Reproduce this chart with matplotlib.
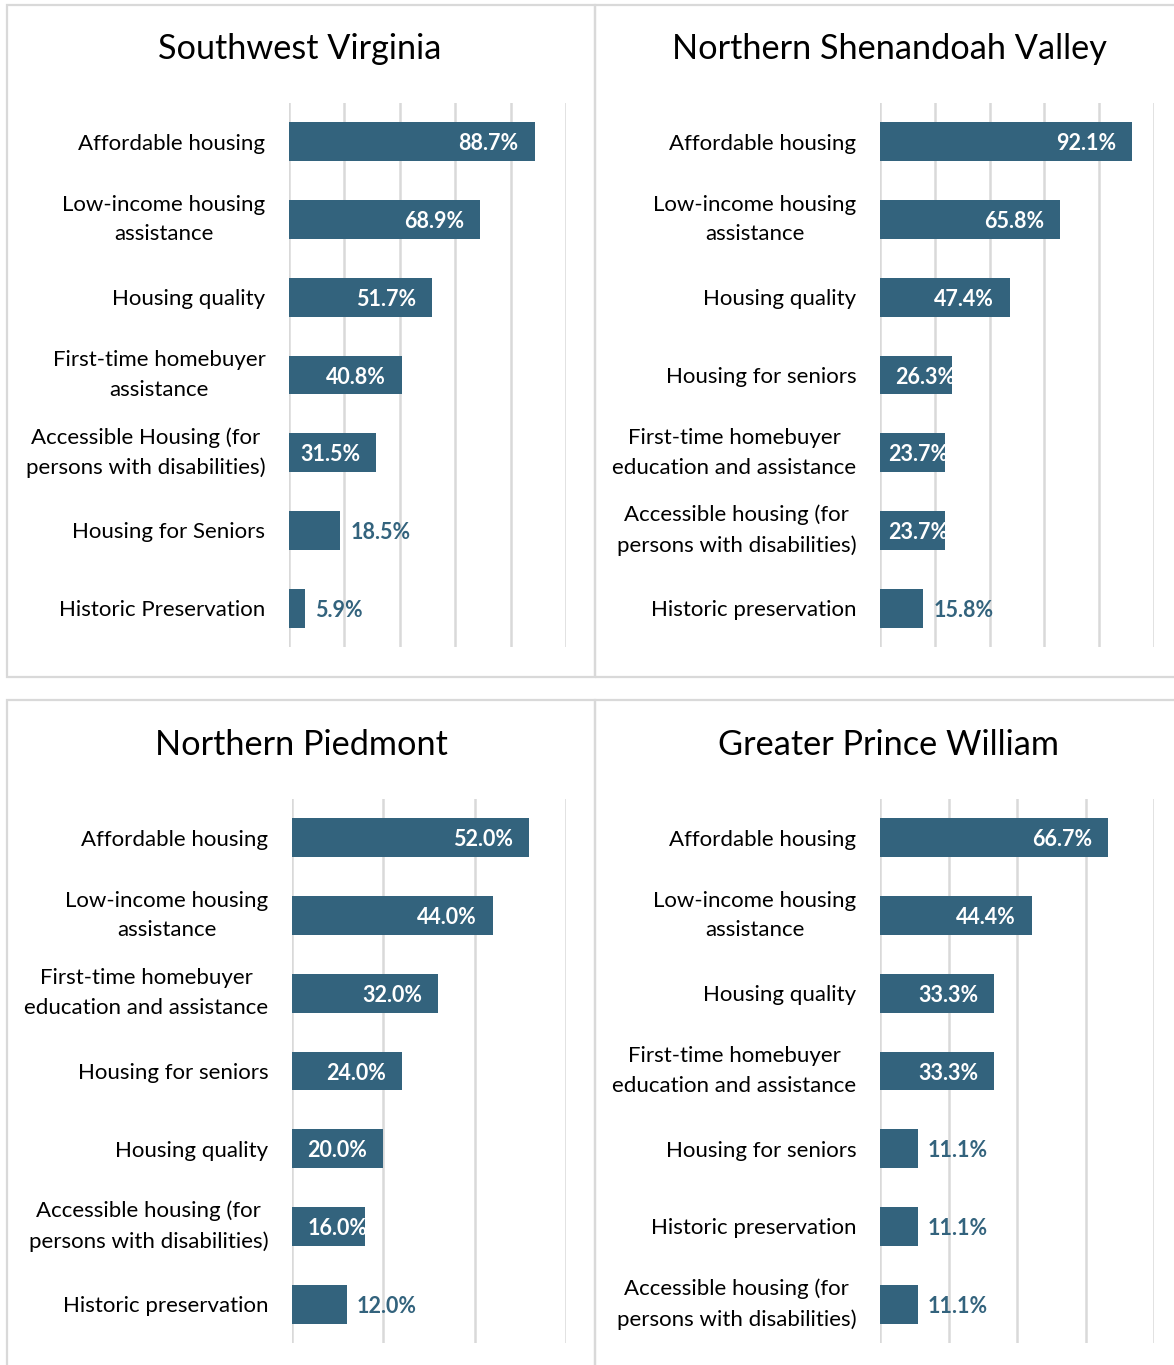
import matplotlib
matplotlib.use('Agg')
import matplotlib.pyplot as plt
from matplotlib.patches import Rectangle

plt.rcParams['font.family'] = ['Lato', 'DejaVu Sans']

# ---------------- data ----------------
sw_title = "Southwest Virginia"
sw_categories = ["Affordable housing", "Low-income housing\nassistance", "Housing quality",
                 "First-time homebuyer\nassistance", "Accessible Housing (for\npersons with disabilities)",
                 "Housing for Seniors", "Historic Preservation"]
sw_values = [88.7, 68.9, 51.7, 40.8, 31.5, 18.5, 5.9]
sw_xmax = 100

ns_title = "Northern Shenandoah Valley"
ns_categories = ["Affordable housing", "Low-income housing\nassistance", "Housing quality",
                 "Housing for seniors", "First-time homebuyer\neducation and assistance",
                 "Accessible housing (for\npersons with disabilities)", "Historic preservation"]
ns_values = [92.1, 65.8, 47.4, 26.3, 23.7, 23.7, 15.8]
ns_xmax = 100

np_title = "Northern Piedmont"
np_categories = ["Affordable housing", "Low-income housing\nassistance",
                 "First-time homebuyer\neducation and assistance", "Housing for seniors",
                 "Housing quality", "Accessible housing (for\npersons with disabilities)",
                 "Historic preservation"]
np_values = [52.0, 44.0, 32.0, 24.0, 20.0, 16.0, 12.0]
np_xmax = 60

gp_title = "Greater Prince William"
gp_categories = ["Affordable housing", "Low-income housing\nassistance", "Housing quality",
                 "First-time homebuyer\neducation and assistance", "Housing for seniors",
                 "Historic preservation", "Accessible housing (for\npersons with disabilities)"]
gp_values = [66.7, 44.4, 33.3, 33.3, 11.1, 11.1, 11.1]
gp_xmax = 80

tick_step = 20

# ---------------- style ----------------
W, H, DPI = 1174, 1365, 100
BAR_COLOR = '#33637D'
GRID_COLOR = '#D9D9D9'
BORDER_COLOR = '#D9D9D9'

fig = plt.figure(figsize=(W / DPI, H / DPI), dpi=DPI)
renderer = fig.canvas.get_renderer()


def rect_px(x0, y0, x1, y1):
    return [x0 / W, 1 - y1 / H, (x1 - x0) / W, (y1 - y0) / H]


# panel borders
for (x0, y0, x1, y1) in [(7, 5, 595, 677), (595, 5, 1185, 677),
                         (7, 700, 595, 1375), (595, 700, 1185, 1375)]:
    fig.patches.append(Rectangle((x0 / W, 1 - y1 / H), (x1 - x0) / W, (y1 - y0) / H,
                                 transform=fig.transFigure, fill=False,
                                 edgecolor=BORDER_COLOR, linewidth=1.6, zorder=0))


def panel(title, cats, vals, xmax, ax_px, title_xy):
    ax = fig.add_axes(rect_px(*ax_px))
    ax_w = ax_px[2] - ax_px[0]
    ppu = ax_w / xmax
    y = list(range(len(cats)))
    bars = ax.barh(y, vals, height=0.5, color=BAR_COLOR, zorder=3)
    ax.set_xlim(0, xmax)
    ax.set_ylim(len(cats) - 0.5, -0.5)
    ax.set_xticks(range(0, xmax + 1, tick_step))
    ax.set_xticklabels([])
    ax.tick_params(axis='x', length=0)
    ax.grid(axis='x', color=GRID_COLOR, linewidth=1.8, zorder=0)
    ax.set_axisbelow(True)
    for s in ax.spines.values():
        s.set_visible(False)
    ax.set_yticks(y)
    ax.set_yticklabels(cats, fontsize=16, color='black', linespacing=1.6)
    ax.tick_params(axis='y', length=0, pad=17)
    for lab in ax.get_yticklabels():
        lab.set_multialignment('center')
        if '\n' in lab.get_text():
            lab.set_verticalalignment('center')
    for i, (v, b) in enumerate(zip(vals, bars)):
        s = f"{v:.1f}%"
        bar_px = v * ppu
        if bar_px >= 0.22 * ax_w:
            t = ax.text(v, i, s, ha='right', va='center_baseline', color='white',
                        fontsize=15.5, fontweight='bold', zorder=4)
            w = t.get_window_extent(renderer).width
            if bar_px >= w + 16 + 8:
                t.set_x(v - 16 / ppu)
            else:
                t.set_x(v + 3 / ppu)
            t.set_clip_path(b)
        else:
            ax.text(v + 10 / ppu, i, s, ha='left', va='center_baseline', color=BAR_COLOR,
                    fontsize=15.5, fontweight='bold', zorder=4)
    fig.text(title_xy[0] / W, 1 - title_xy[1] / H, title, ha='center', va='baseline',
             fontsize=24.7, color='black')


panel(sw_title, sw_categories, sw_values, sw_xmax, (289, 103, 566, 647), (300, 59))
panel(ns_title, ns_categories, ns_values, ns_xmax, (880, 103, 1154, 647), (889, 59))
panel(np_title, np_categories, np_values, np_xmax, (292, 799, 566, 1343), (301, 755))
panel(gp_title, gp_categories, gp_values, gp_xmax, (880, 799, 1154, 1343), (889, 755))

fig.savefig('out.png', dpi=DPI)
